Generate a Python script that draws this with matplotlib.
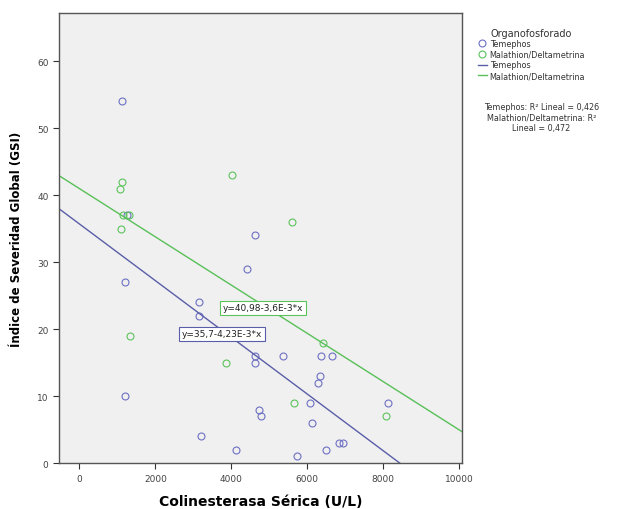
import numpy as np
import matplotlib.pyplot as plt
from matplotlib.lines import Line2D

# datos
teme_x = [1130, 1210, 1210, 1250, 3160, 3160, 3210, 4130, 4420, 4630, 4630, 4630,
          5370, 6370, 6660, 6340, 6290, 6080, 6130, 6500, 5740, 6840, 6950,
          4740, 4790, 8130]
teme_y = [54, 27, 10, 37, 24, 22, 4, 2, 29, 34, 16, 15,
          16, 16, 16, 13, 12, 9, 6, 2, 1, 3, 3,
          8, 7, 9]
mala_x = [1120, 1070, 1150, 1100, 1300, 4030, 5600, 1340, 3870, 5660, 6420, 8080]
mala_y = [42, 41, 37, 35, 37, 43, 36, 19, 15, 9, 18, 7]

# coeficientes de las rectas
teme_a, teme_b = 35.7, -4.23e-3
mala_a, mala_b = 40.98, -3.6e-3

azul = '#6d70c2'
azul_l = '#5a5ea8'
verde = '#5cc35c'
verde_l = '#58c058'

fig = plt.figure(figsize=(6.21, 5.10), dpi=100)
ax = fig.add_axes([0.095, 0.090, 0.649, 0.8825])
ax.set_facecolor('#f0f0f0')

ax.plot(teme_x, teme_y, 'o', mfc='none', mec=azul, ms=5, mew=0.8)
ax.plot(mala_x, mala_y, 'o', mfc='none', mec=verde, ms=5, mew=0.8)

xl = np.array([-540, 10080])
ax.plot(xl, teme_a + teme_b*xl, color=azul_l, lw=1.0)
ax.plot(xl, mala_a + mala_b*xl, color=verde_l, lw=1.0)

ax.set_xlim(-540, 10080)
ax.set_ylim(0, 67.2)
ax.set_xticks([0, 2000, 4000, 6000, 8000, 10000])
ax.set_yticks([0, 10, 20, 30, 40, 50, 60])
ax.tick_params(labelsize=6.5, labelcolor='#444444', length=4, width=0.8, color='#333333')
for s in ax.spines.values():
    s.set_color('#555555')
    s.set_linewidth(1.0)

ax.set_xlabel('Colinesterasa Sérica (U/L)', fontsize=10, fontweight='bold', labelpad=8)
ax.set_ylabel('Índice de Severidad Global (GSI)', fontsize=8.5, fontweight='bold', labelpad=10)

# cajas con ecuaciones
ax.text(3770, 23.2, 'y=40,98-3,6E-3*x', fontsize=6.5, color='#222222', va='center', ha='left',
        bbox=dict(boxstyle='square,pad=0.3', fc='white', ec=verde, lw=0.8))
ax.text(2700, 19.3, 'y=35,7-4,23E-3*x', fontsize=6.5, color='#222222', va='center', ha='left',
        bbox=dict(boxstyle='square,pad=0.3', fc='white', ec=azul_l, lw=0.8))

# leyenda
handles = [Line2D([], [], ls='none', marker='o', mfc='none', mec=azul, ms=5, mew=0.8),
           Line2D([], [], ls='none', marker='o', mfc='none', mec=verde, ms=5, mew=0.8),
           Line2D([], [], color=azul_l, lw=1.0),
           Line2D([], [], color=verde_l, lw=1.0)]
labels = ['Temephos', 'Malathion/Deltametrina', 'Temephos', 'Malathion/Deltametrina']
leg = fig.legend(handles, labels, loc='upper left', bbox_to_anchor=(0.76, 0.955),
                 title='Organofosforado', fontsize=5.8, title_fontsize=7, frameon=False,
                 handlelength=1.2, handletextpad=0.3, labelspacing=0.2, borderpad=0.2)
leg.get_title().set_color('#333333')
for t in leg.get_texts():
    t.set_color('#333333')

fig.text(0.872, 0.785, 'Temephos: R² Lineal = 0,426', fontsize=5.8, ha='center', color='#333333')
fig.text(0.872, 0.764, 'Malathion/Deltametrina: R²', fontsize=5.8, ha='center', color='#333333')
fig.text(0.872, 0.743, 'Lineal = 0,472', fontsize=5.8, ha='center', color='#333333')

fig.savefig('out.png', dpi=100)
